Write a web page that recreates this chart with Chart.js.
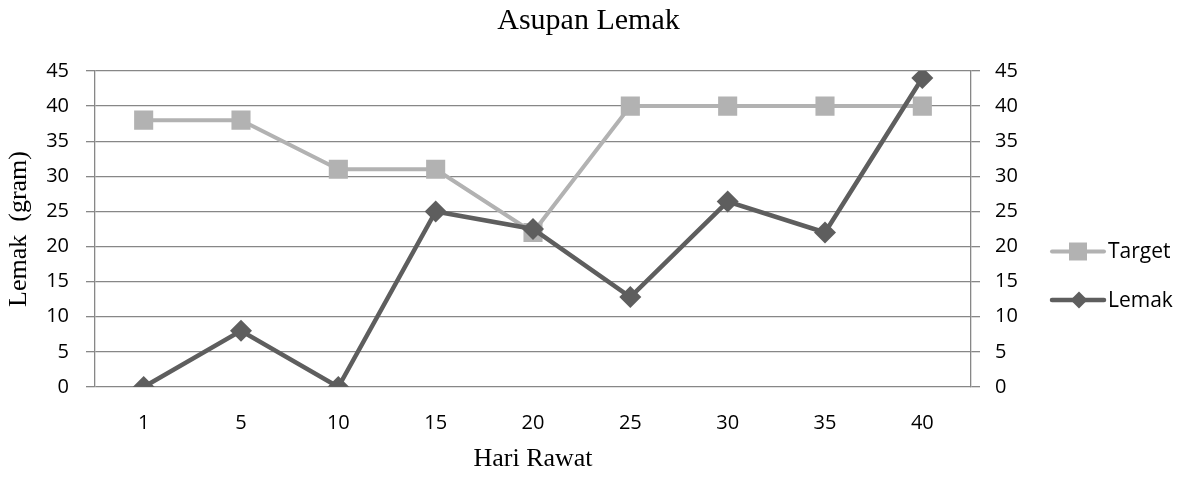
<!DOCTYPE html>
<html>
<head>
<meta charset="utf-8">
<script src="https://cdn.jsdelivr.net/npm/chart.js@4"></script>
<style>
  html, body { margin: 0; padding: 0; background: #fff; }
  #wrap { width: 1193px; height: 477px; }
</style>
</head>
<body>
<div id="wrap"><canvas id="fatChart" width="1193" height="477"></canvas></div>
<script>
// Asupan Lemak - line chart, two series on a shared 0..45 scale

const hariRawat = ['1', '5', '10', '15', '20', '25', '30', '35', '40'];
const targetValues = [38, 38, 31, 31, 22, 40, 40, 40, 40];
const lemakValues = [0, 8, 0, 25, 22.5, 12.8, 26.4, 22, 44];
const yTicks = [0, 5, 10, 15, 20, 25, 30, 35, 40, 45];

const GRID = '#878787';
const TICK_FONT = { family: 'Open Sans', size: 20 };
const SERIF = { family: 'Liberation Serif', size: 26, lineHeight: 1.2 };

// Excel-style legend: short line with the marker in its middle
const sideLegend = {
  id: 'sideLegend',
  afterDraw(chart) {
    const ctx = chart.ctx;
    const rows = [251.5, 300];
    chart.data.datasets.forEach((ds, i) => {
      const y = rows[i];
      ctx.save();
      ctx.strokeStyle = ds.borderColor;
      ctx.lineWidth = ds.borderWidth;
      ctx.lineCap = 'round';
      ctx.beginPath();
      ctx.moveTo(1052, y);
      ctx.lineTo(1104, y);
      ctx.stroke();
      ctx.fillStyle = ds.pointBackgroundColor;
      ctx.beginPath();
      if (ds.pointStyle === 'rect') {
        ctx.rect(1078 - 9, y - 9, 18, 18);
      } else {
        const r = 8.5;
        ctx.moveTo(1079, y - r);
        ctx.lineTo(1079 + r, y);
        ctx.lineTo(1079, y + r);
        ctx.lineTo(1079 - r, y);
        ctx.closePath();
      }
      ctx.fill();
      ctx.fillStyle = '#000';
      ctx.font = `21px "${TICK_FONT.family}"`;
      ctx.textAlign = 'left';
      ctx.textBaseline = 'middle';
      ctx.fillText(ds.label, 1108, y + 1);
      ctx.restore();
    });
  }
};

const ctx = document.getElementById('fatChart').getContext('2d');
new Chart(ctx, {
  type: 'line',
  data: {
    labels: hariRawat,
    datasets: [
      {
        label: 'Target',
        data: targetValues,
        borderColor: '#b2b2b2',
        borderWidth: 4,
        pointStyle: 'rect',
        pointRadius: 13.5,
        pointBackgroundColor: '#b2b2b2',
        pointBorderWidth: 0,
        order: 1,
        yAxisID: 'y'
      },
      {
        label: 'Lemak',
        data: lemakValues,
        borderColor: '#5e5e5e',
        borderWidth: 4.5,
        pointStyle: 'rectRot',
        pointRadius: 11,
        pointBackgroundColor: '#5e5e5e',
        pointBorderWidth: 0,
        order: 0,
        yAxisID: 'y'
      }
    ]
  },
  options: {
    responsive: false,
    animation: false,
    events: [],
    layout: { padding: { left: 0, right: 16, top: 0, bottom: 0 } },
    scales: {
      x: {
        type: 'category',
        offset: true,
        grid: { display: false, drawTicks: false },
        border: { display: false },
        ticks: { color: '#000', font: TICK_FONT, padding: 24, maxRotation: 0 },
        title: { display: true, text: 'Hari Rawat', color: '#000', font: SERIF, padding: { top: 0, bottom: 2.5 } },
        afterFit: (s) => { s.height = 90; }
      },
      y: {
        position: 'left',
        min: 0,
        max: 45,
        afterBuildTicks: (s) => { s.ticks = yTicks.map(v => ({ value: v })); },
        grid: { color: GRID, lineWidth: 1.3, tickLength: 9, drawTicks: true },
        border: { display: true, color: GRID, width: 1.3 },
        ticks: { color: '#000', font: TICK_FONT, padding: 17 },
        title: { display: true, text: 'Lemak  (gram)', color: '#000', font: SERIF, padding: { top: 3.5, bottom: 0 } },
        afterFit: (s) => { s.width = 95; }
      },
      y2: {
        position: 'right',
        min: 0,
        max: 45,
        afterBuildTicks: (s) => { s.ticks = yTicks.map(v => ({ value: v })); },
        grid: { color: GRID, lineWidth: 1.3, tickLength: 9, drawOnChartArea: false },
        border: { display: true, color: GRID, width: 1.3 },
        ticks: { color: '#000', font: TICK_FONT, padding: 15 },
        afterFit: (s) => { s.width = 206; }
      }
    },
    plugins: {
      legend: { display: false },
      tooltip: { enabled: false },
      title: {
        display: true,
        text: 'Asupan Lemak',
        color: '#000',
        font: { family: 'Liberation Serif', size: 30, weight: 'normal', lineHeight: 1.2 },
        padding: { top: 3, bottom: 32 }
      }
    }
  },
  plugins: [sideLegend]
});
</script>
</body>
</html>
